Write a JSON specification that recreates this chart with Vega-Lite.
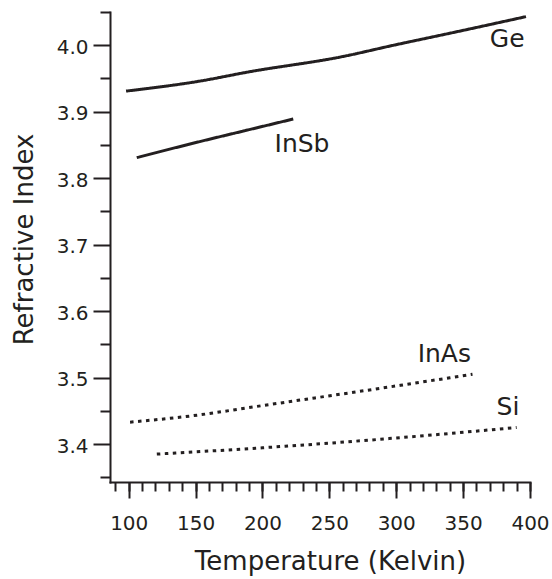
{
  "$schema": "https://vega.github.io/schema/vega-lite/v6.json",
  "width": 420,
  "height": 470,
  "autosize": {"type": "none"},
  "padding": {"left": 110, "top": 12, "right": 22, "bottom": 97},
  "background": "white",
  "config": {
    "view": {"stroke": null},
    "font": "DejaVu Sans",
    "axis": {"grid": false, "domainColor": "#231f20", "tickColor": "#231f20", "labelColor": "#231f20", "titleColor": "#231f20", "domainWidth": 2, "tickWidth": 2, "labelFont": "DejaVu Sans", "titleFont": "DejaVu Sans", "labelFontSize": 20, "titleFontSize": 26, "titleFontWeight": "normal", "domainCap": "square"}
  },
  "datasets": {
    "curves": [
      {"material": "Ge", "T": 98, "n": 3.931},
      {"material": "Ge", "T": 153, "n": 3.946},
      {"material": "Ge", "T": 190, "n": 3.960},
      {"material": "Ge", "T": 260, "n": 3.983},
      {"material": "Ge", "T": 298, "n": 4.000},
      {"material": "Ge", "T": 340, "n": 4.018},
      {"material": "Ge", "T": 397, "n": 4.043},
      {"material": "InSb", "T": 106, "n": 3.831},
      {"material": "InSb", "T": 153, "n": 3.855},
      {"material": "InSb", "T": 190, "n": 3.873},
      {"material": "InSb", "T": 223, "n": 3.889},
      {"material": "InAs", "T": 101, "n": 3.433},
      {"material": "InAs", "T": 153, "n": 3.444},
      {"material": "InAs", "T": 190, "n": 3.455},
      {"material": "InAs", "T": 295, "n": 3.486},
      {"material": "InAs", "T": 357, "n": 3.505},
      {"material": "Si", "T": 121, "n": 3.385},
      {"material": "Si", "T": 200, "n": 3.3945},
      {"material": "Si", "T": 280, "n": 3.406},
      {"material": "Si", "T": 390, "n": 3.425}
    ],
    "labels": [
      {"material": "Ge", "T": 370, "n": 3.9978},
      {"material": "InSb", "T": 209, "n": 3.8398},
      {"material": "InAs", "T": 316, "n": 3.5239},
      {"material": "Si", "T": 375, "n": 3.4437}
    ]
  },
  "layer": [
    {
      "data": {"name": "curves"},
      "mark": {"type": "line", "strokeWidth": 3, "interpolate": "monotone", "color": "#231f20", "strokeCap": "butt"},
      "encoding": {
        "x": {"field": "T", "type": "quantitative", "scale": {"domain": [86, 400], "nice": false, "zero": false},
          "axis": {"orient": "bottom", "values": [100, 150, 200, 250, 300, 350, 400], "tickSize": 16, "labelPadding": 15, "labelOverlap": false, "labelFlush": false, "title": "Temperature (Kelvin)", "titleBaseline": "alphabetic", "titleY": 87, "titleX": 220, "titleAnchor": "middle"}},
        "y": {"field": "n", "type": "quantitative", "scale": {"domain": [3.343, 4.05], "nice": false, "zero": false},
          "axis": {"orient": "left", "values": [3.4, 3.5, 3.6, 3.7, 3.8, 3.9, 4.0], "format": ".1f", "tickSize": 17, "labelPadding": 5, "labelOffset": 2, "labelOverlap": false, "labelFlush": false, "title": "Refractive Index", "titleAngle": 270, "titleBaseline": "alphabetic", "titleX": -78, "titleY": 227, "titleAnchor": "middle"}},
        "detail": {"field": "material"},
        "strokeDash": {"field": "material", "type": "nominal", "legend": null,
          "scale": {"domain": ["Ge", "InSb", "InAs", "Si"], "range": [[1, 0], [1, 0], [3.5, 4.5], [3.5, 4.5]]}}
      }
    },
    {
      "data": {"name": "labels"},
      "mark": {"type": "text", "align": "left", "baseline": "alphabetic", "fontSize": 25, "font": "DejaVu Sans", "color": "#231f20"},
      "encoding": {
        "x": {"field": "T", "type": "quantitative",
          "axis": {"orient": "bottom", "values": [90, 100, 110, 120, 130, 140, 150, 160, 170, 180, 190, 200, 210, 220, 230, 240, 250, 260, 270, 280, 290, 300, 310, 320, 330, 340, 350, 360, 370, 380, 390, 400], "tickSize": 9, "labels": false, "domain": false, "title": null}},
        "y": {"field": "n", "type": "quantitative",
          "axis": {"orient": "left", "values": [3.35, 3.45, 3.55, 3.65, 3.75, 3.85, 3.95, 4.05], "tickSize": 10, "labels": false, "domain": false, "title": null}},
        "text": {"field": "material"}
      }
    }
  ],
  "resolve": {"axis": {"x": "independent", "y": "independent"}}
}
